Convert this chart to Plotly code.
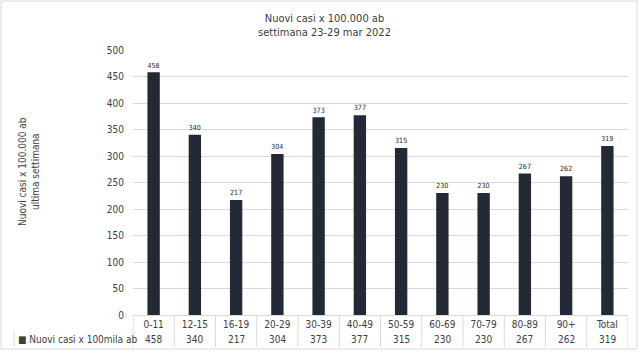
import plotly.graph_objects as go

categories = ["0-11", "12-15", "16-19", "20-29", "30-39", "40-49", "50-59",
              "60-69", "70-79", "80-89", "90+", "Total"]
values = [458, 340, 217, 304, 373, 377, 315, 230, 230, 267, 262, 319]
series_name = "Nuovi casi x 100mila ab"
title_lines = ["Nuovi casi x 100.000 ab", "settimana 23-29 mar 2022"]
ytitle_lines = ["Nuovi casi x 100.000 ab", "ultima settimana"]
y_ticks = [0, 50, 100, 150, 200, 250, 300, 350, 400, 450, 500]

W, H = 640, 353
L, R, T, B = 133, 12, 50, 38
PW, PH = W - L - R, H - T - B

def px_x(p):
    return (p - L) / PW

def px_y(p):
    return (H - B - p) / PH

FONT = "DejaVu Sans Condensed, Liberation Sans Narrow, Liberation Sans, sans-serif"
BAR = "#232a35"
TXT = "#404040"
GRID = "#d9d9d9"

fig = go.Figure()
fig.add_trace(go.Bar(
    x=list(range(len(categories))), y=values,
    marker=dict(color=BAR, line=dict(width=0)),
    width=0.3,
    text=[str(v) for v in values], textposition="outside",
    textfont=dict(family=FONT, size=8, color="#262626"),
    cliponaxis=False, hoverinfo="skip",
))

shapes = []
# outer chart border
shapes.append(dict(type="rect", xref="paper", yref="paper",
                   x0=px_x(1), x1=px_x(637), y0=px_y(349), y1=px_y(1),
                   line=dict(color="#d9d9d9", width=1), layer="below"))
# table vertical borders
n = len(categories)
for i in range(n + 1):
    shapes.append(dict(type="line", xref="x", yref="paper",
                       x0=i - 0.5, x1=i - 0.5, y0=px_y(347), y1=0,
                       line=dict(color=GRID, width=1)))
# legend cell borders
shapes.append(dict(type="line", xref="paper", yref="paper",
                   x0=px_x(14), x1=px_x(14), y0=px_y(347), y1=px_y(331),
                   line=dict(color=GRID, width=1)))

annotations = []
# title
annotations.append(dict(text="<br>".join(title_lines), xref="paper", yref="paper",
                        x=px_x(324), y=px_y(25), showarrow=False, align="center",
                        font=dict(family=FONT, size=11, color=TXT),
                        xanchor="center", yanchor="middle"))
# y axis title (one annotation per line, each centred)
for k, line in enumerate(ytitle_lines):
    annotations.append(dict(text=line, xref="paper", yref="paper",
                            x=px_x(22 + 13 * k), y=px_y(172), showarrow=False,
                            textangle=-90,
                            font=dict(family=FONT, size=10, color=TXT),
                            xanchor="center", yanchor="middle"))
# table value row
for i, v in enumerate(values):
    annotations.append(dict(text=str(v), xref="x", yref="paper",
                            x=i, y=px_y(339), showarrow=False,
                            font=dict(family=FONT, size=10, color=TXT),
                            xanchor="center", yanchor="middle"))
# legend key + series name
annotations.append(dict(text="\u25A0 " + series_name, xref="paper", yref="paper",
                        x=px_x(16), y=px_y(339), showarrow=False,
                        font=dict(family=FONT, size=10, color=TXT),
                        xanchor="left", yanchor="middle"))

fig.update_layout(
    width=W, height=H,
    margin=dict(l=L, r=R, t=T, b=B, pad=0),
    paper_bgcolor="white", plot_bgcolor="white",
    showlegend=False,
    shapes=shapes, annotations=annotations,
    font=dict(family=FONT, size=10, color=TXT),
)
fig.update_xaxes(
    tickmode="array", tickvals=list(range(n)), ticktext=categories,
    range=[-0.5, n - 0.5], showgrid=False, zeroline=False,
    showline=True, linecolor=GRID, linewidth=1,
    tickfont=dict(family=FONT, size=10, color=TXT), ticks="", ticklen=0,
)
fig.update_yaxes(
    range=[0, 500], tickvals=y_ticks, showgrid=True, gridcolor=GRID, gridwidth=1,
    zeroline=False, showline=False, ticks="", ticklabelstandoff=8,
    tickfont=dict(family=FONT, size=10, color=TXT),
)

fig.write_html("out.html")
